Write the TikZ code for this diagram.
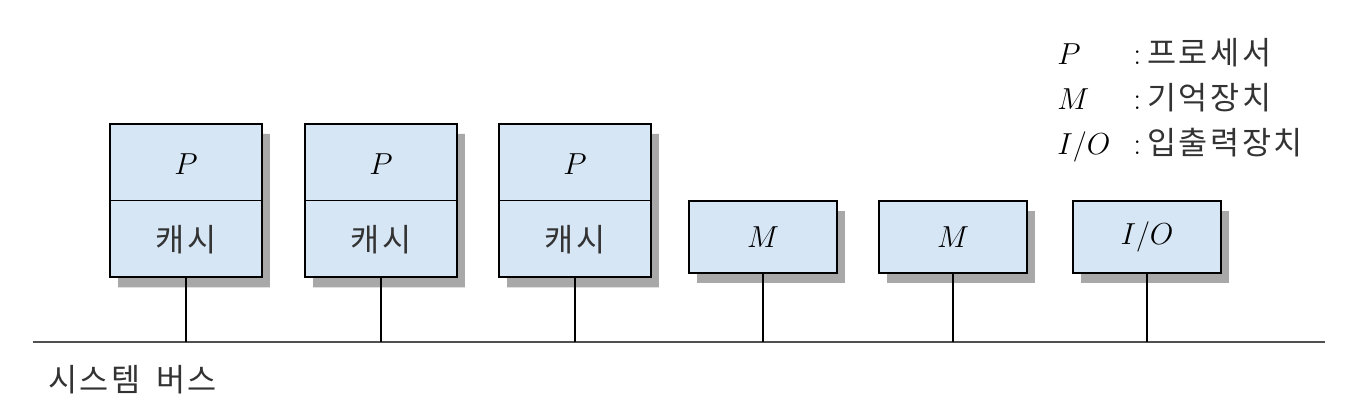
\documentclass[tikz,border=0pt]{standalone}
\usepackage{fontspec}
\newfontfamily\kofont[LetterSpace=8, WordSpace=1.6, Color=333333]{Noto Sans CJK KR}
\usetikzlibrary{shapes.multipart, shadows}

\definecolor{unitblue}{HTML}{D6E6F5}
\definecolor{shadowgray}{HTML}{A8A8A8}
\definecolor{busgray}{HTML}{505050}

% strut that fixes the height of one part of a processor box
\newcommand{\partstrut}{\rule[-0.5cm]{0pt}{1.5cm}}

\begin{document}
\begin{tikzpicture}[x=0.02cm, y=-0.02cm,
        font=\fontsize{18}{25.5}\selectfont,
        unitbox/.style={rectangle, draw=black, line width=1pt, fill=unitblue, minimum width=2.96cm, minimum height=1.44cm, inner sep=0pt, drop shadow={shadow xshift=0.16cm, shadow yshift=-0.2cm, fill=shadowgray, opacity=1}},
        cpubox/.style={unitbox, rectangle split, rectangle split parts=2, minimum width=3.04cm, minimum height=0pt},
        tap/.style={line width=0.8pt},
        bus/.style={draw=busgray, line width=1.2pt}
    ]
        \useasboundingbox (0,0) rectangle (1358,418);

        % processors with their caches
        \node[cpubox, anchor=north] (p1) at (186,123) {$P$\partstrut \nodepart{two} {\kofont 캐시}\partstrut};
        \node[cpubox, anchor=north] (p2) at (381,123) {$P$\partstrut \nodepart{two} {\kofont 캐시}\partstrut};
        \node[cpubox, anchor=north] (p3) at (575,123) {$P$\partstrut \nodepart{two} {\kofont 캐시}\partstrut};

        % memories and I/O
        \node[unitbox] (m1) at (763,237) {$M$};
        \node[unitbox] (m2) at (953,237) {$M$};
        \node[unitbox] (io) at (1147,237) {$I/O$};

        % system bus
        \coordinate (busL) at (33,342);
        \coordinate (busR) at (1325,342);
        \draw[bus] (busL) -- (busR);
        \foreach \u in {p1,p2,p3,m1,m2,io}
            \draw[tap] (\u.south) -- (\u.south |- busL);
        \node[anchor=west, inner sep=0pt] (buslabel) at (48,380) {\kofont 시스템 버스};

        % legend
        \node[anchor=base west, inner sep=0pt] (legend) at (1057,65) {%
            \begin{tabular}[t]{@{}l@{\hspace{0.46cm}}c@{\hspace{0.12cm}}l@{}}
                $P$   & : & {\kofont 프로세서} \\
                $M$   & : & {\kofont 기억장치} \\
                $I/O$ & : & {\kofont 입출력장치}
            \end{tabular}};
    \end{tikzpicture}
\end{document}
